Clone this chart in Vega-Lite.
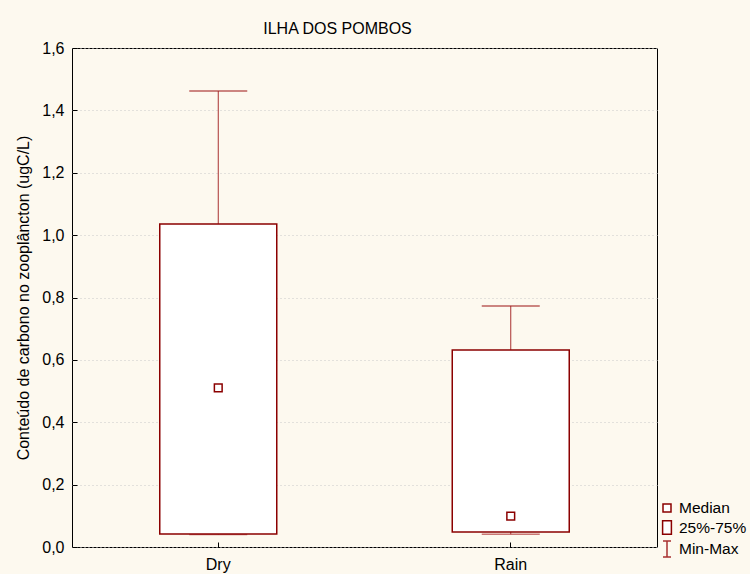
{
  "$schema": "https://vega.github.io/schema/vega-lite/v6.json",
  "autosize": {"type": "none"},
  "padding": {"left": 72, "top": 48, "right": 93, "bottom": 27},
  "width": 585,
  "height": 499,
  "background": "#fdf9ef",
  "title": {"text": "ILHA DOS POMBOS", "anchor": "middle", "frame": "group", "dx": -27, "offset": 3, "fontSize": 16, "fontWeight": "normal", "font": "Liberation Sans", "color": "#000000"},
  "config": {
    "locale": {"number": {"decimal": ",", "thousands": ".", "grouping": [3], "currency": ["", ""]}},
    "view": {"fill": "white", "stroke": "black", "strokeWidth": 1},
    "font": "Liberation Sans",
    "axis": {"labelFont": "Liberation Sans", "titleFont": "Liberation Sans", "labelFontSize": 16, "titleFontSize": 16, "titleFontWeight": "normal", "labelColor": "#000000", "titleColor": "#000000", "tickColor": "#000000", "domain": false}
  },
  "datasets": {
    "boxes": [
      {"season": "Dry", "min": 0.040, "q1": 0.042, "median": 0.51, "q3": 1.036, "max": 1.462},
      {"season": "Rain", "min": 0.041, "q1": 0.048, "median": 0.099, "q3": 0.632, "max": 0.773}
    ],
    "legend": [
      {"item": "Median"},
      {"item": "25%-75%"},
      {"item": "Min-Max"}
    ]
  },
  "layer": [
    {
      "data": {"name": "boxes"},
      "mark": {"type": "rule", "color": "#a83030", "strokeWidth": 1},
      "encoding": {
        "x": {"field": "season", "type": "nominal", "scale": {"type": "band", "paddingInner": 0, "paddingOuter": 0}, "sort": null,
              "axis": {"title": null, "tickSize": -5, "labelPadding": 14, "labelAngle": 0, "grid": false}},
        "y": {"field": "q3", "type": "quantitative", "scale": {"domain": [0, 1.6], "nice": false, "zero": true},
              "axis": {"title": "Conteúdo de carbono no zooplâncton (ugC/L)", "values": [0, 0.2, 0.4, 0.6, 0.8, 1.0, 1.2, 1.4, 1.6], "format": ".1f", "tickSize": -5, "labelPadding": 13, "titlePadding": 10, "grid": true, "gridColor": "#c8c8c8", "gridDash": [1, 3], "gridWidth": 1}},
        "y2": {"field": "max"}
      }
    },
    {
      "data": {"name": "boxes"},
      "mark": {"type": "rule", "color": "#a83030", "strokeWidth": 1},
      "encoding": {
        "x": {"field": "season", "type": "nominal", "sort": null},
        "y": {"field": "min", "type": "quantitative"},
        "y2": {"field": "q1"}
      }
    },
    {
      "data": {"name": "boxes"},
      "mark": {"type": "tick", "color": "#a01e1e", "thickness": 1.5, "size": 58, "orient": "horizontal"},
      "encoding": {
        "x": {"field": "season", "type": "nominal", "sort": null},
        "y": {"field": "max", "type": "quantitative"}
      }
    },
    {
      "data": {"name": "boxes"},
      "mark": {"type": "tick", "color": "#b04040", "thickness": 1.5, "size": 58, "orient": "horizontal"},
      "encoding": {
        "x": {"field": "season", "type": "nominal", "sort": null},
        "y": {"field": "min", "type": "quantitative"}
      }
    },
    {
      "data": {"name": "boxes"},
      "mark": {"type": "bar", "fill": "white", "stroke": "#8b0000", "strokeWidth": 1.5, "width": {"band": 0.4}},
      "encoding": {
        "x": {"field": "season", "type": "nominal", "sort": null},
        "y": {"field": "q1", "type": "quantitative"},
        "y2": {"field": "q3"}
      }
    },
    {
      "data": {"name": "boxes"},
      "mark": {"type": "point", "shape": "square", "size": 60, "filled": false, "fill": "white", "stroke": "#8b0000", "strokeWidth": 1.5, "opacity": 1},
      "encoding": {
        "x": {"field": "season", "type": "nominal", "sort": null},
        "y": {"field": "median", "type": "quantitative"}
      }
    },
    {
      "data": {"name": "legend"},
      "transform": [{"filter": "false"}],
      "mark": {"type": "point", "filled": false, "size": 256, "strokeWidth": 1.5, "fill": "white", "opacity": 1},
      "encoding": {
        "shape": {"field": "item", "type": "nominal",
                  "scale": {"domain": ["Median", "25%-75%", "Min-Max"], "range": ["M-0.5,-0.5H0.5V0.5H-0.5Z", "M-0.55,-0.85H0.55V0.85H-0.55Z", "M-0.5,-1H0.5M0,-1V1M-0.5,1H0.5"]},
                  "legend": {"title": null, "orient": "none", "legendX": 586, "legendY": 451, "symbolSize": 256, "symbolStrokeWidth": 1.5, "symbolFillColor": "white", "symbolOpacity": 1, "labelFontSize": 15.5, "labelFont": "Liberation Sans", "labelColor": "#000000", "rowPadding": 0.5, "labelOffset": 3, "padding": 0}},
        "stroke": {"field": "item", "type": "nominal",
                   "scale": {"domain": ["Median", "25%-75%", "Min-Max"], "range": ["#8b0000", "#8b0000", "#a83030"]}}
      }
    }
  ]
}
